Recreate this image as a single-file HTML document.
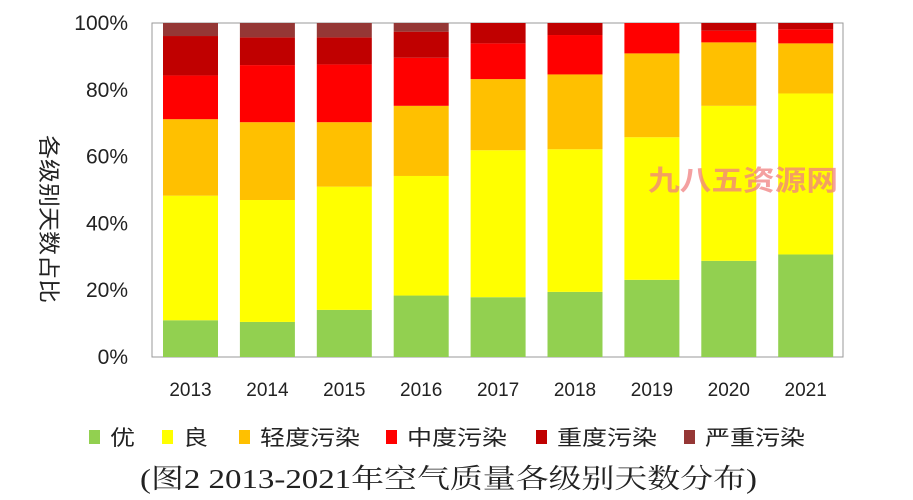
<!DOCTYPE html>
<html><head><meta charset="utf-8"><style>
html,body{margin:0;padding:0;background:#fff;}
svg{display:block;}
</style></head><body>
<svg id="chart" width="913" height="500" viewBox="0 0 913 500" xmlns="http://www.w3.org/2000/svg" font-family="'Liberation Sans','Noto Sans CJK SC',sans-serif">
<rect x="152" y="23" width="691" height="334" fill="#fff" stroke="#999" stroke-width="1"/>
<g id="bars"></g>
<g id="yticks"></g>
<g id="xticks"></g>
<text transform="translate(41,219) rotate(90)" text-anchor="middle" font-size="22" fill="#222" font-family="'Noto Sans CJK SC',sans-serif" textLength="168" lengthAdjust="spacingAndGlyphs">各级别天数占比</text>
<text x="648" y="190" font-size="28" fill="#f08080" fill-opacity="0.75" font-weight="bold" font-family="'Noto Sans CJK SC',sans-serif" textLength="190" lengthAdjust="spacingAndGlyphs">九八五资源网</text>
<g id="legend"></g>
<text x="140" y="488" font-size="27" fill="#222" font-family="'Liberation Serif','Noto Serif CJK SC',serif" textLength="617" lengthAdjust="spacingAndGlyphs">(图2 2013-2021年空气质量各级别天数分布)</text>
</svg>
<script>
const years = ['2013','2014','2015','2016','2017','2018','2019','2020','2021'];
const seriesNames = ['优','良','轻度污染','中度污染','重度污染','严重污染'];
const excellent = [11, 10.5, 14.1, 18.4, 17.9, 19.5, 23.1, 28.8, 30.7];
const good = [37.3, 36.5, 36.9, 35.8, 44, 42.7, 42.7, 46.4, 48.2];
const light = [22.9, 23.3, 19.3, 21, 21.3, 22.4, 25.1, 19, 15];
const moderate = [13.1, 17.1, 17.3, 14.4, 10.7, 11.8, 9.1, 3.5, 4.2];
const heavy = [11.8, 8.3, 8.1, 7.8, 6.1, 3.6, 0, 2.3, 1.9];
const severe = [3.9, 4.3, 4.3, 2.6, 0, 0, 0, 0, 0];
const yTicks = [0, 20, 40, 60, 80, 100];
const colors = ['#92d050','#ffff00','#ffc000','#ff0000','#c00000','#953735'];
const series = [excellent, good, light, moderate, heavy, severe];
const NS = 'http://www.w3.org/2000/svg';
const plotTop = 23, plotBottom = 357, firstX = 163, pitch = 76.9, barW = 55;
function yScale(v){ return plotBottom - (v/100)*(plotBottom-plotTop); }
function xScale(i){ return firstX + i*pitch; }
function mk(tag, attrs){ const e=document.createElementNS(NS,tag); for(const k in attrs) e.setAttribute(k,attrs[k]); return e; }
const bars = document.getElementById('bars');
years.forEach((yr,i)=>{
  let cum = 0;
  series.forEach((s,si)=>{
    const v = s[i];
    if (v <= 0) return;
    let top = cum + v;
    if (top > 100) top = 100;
    const r = mk('rect',{x:xScale(i), y:yScale(top), width:barW, height:yScale(cum)-yScale(top), fill:colors[si]});
    
    
    bars.appendChild(r);
    cum = top;
  });
  if (cum < 100) {
    let last = 4; for (let k=5;k>=0;k--){ if(series[k][i]>0){last=k;break;} }
    const r = mk('rect',{x:xScale(i), y:yScale(100), width:barW, height:yScale(cum)-yScale(100), fill:colors[Math.max(last,3)]});
    
    
    bars.appendChild(r);
  }
});
const yt = document.getElementById('yticks');
yTicks.forEach(t=>{
  const tx = mk('text',{x:128, y:yScale(t)+7, 'text-anchor':'end', 'font-size':21, fill:'#222'});
  tx.textContent = t + '%';
  
  
  yt.appendChild(tx);
});
const xt = document.getElementById('xticks');
years.forEach((yr,i)=>{
  const tx = mk('text',{x:xScale(i)+barW/2, y:396, 'text-anchor':'middle', 'font-size':19, fill:'#222'});
  tx.textContent = yr;
  
  
  xt.appendChild(tx);
});
const lg = document.getElementById('legend');
const lgX = [89, 162, 239, 386, 536, 684];
seriesNames.forEach((n,i)=>{
  const sq = mk('rect',{x:lgX[i], y:430, width:11, height:14, fill:colors[i]});
  
  
  lg.appendChild(sq);
  const tx = mk('text',{x:lgX[i]+21, y:445, 'font-size':21, fill:'#222', 'font-family':"'Noto Sans CJK SC',sans-serif", textLength: n.length*25, lengthAdjust:'spacingAndGlyphs'});
  tx.textContent = n;
  
  
  lg.appendChild(tx);
});
</script>
</body></html>
